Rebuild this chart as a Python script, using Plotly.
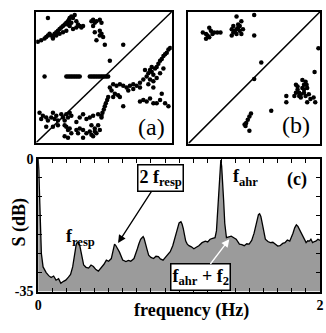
import plotly.graph_objects as go

# ---------------- data ----------------
# Panel (a) return map (arbitrary units)
a_x = [15,25,35,40,45,50,55,60,65,70,75,80,85,90,95,100,105,108,110,115,120,125,130,135,140,145,150,130,120,110,100,90,80,70,60,45,105,115,
       175,180,185,190,200,205,180,185,200,205,210,190,200,215,270,
       230,
       35,100,105,110,115,120,125,130,135,140,170,175,180,185,190,195,200,205,210,215,220,225,
       240,250,260,270,280,290,300,310,320,330,340,345,350,355,360,365,370,375,380,385,390,395,400,405,410,350,360,370,380,390,345,320,300,285,360,335,355,
       230,235,245,255,260,240,270,
       225,222,218,215,212,208,205,
       320,330,340,350,360,370,380,385,395,405,
       20,30,40,25,45,55,60,65,70,75,85,90,95,100,105,110,115,40,60,75,95,100,105,110,115,130,140,150,160,170,175,185,190,200,195,175,160,170,180,195,205,150,140,130,135,150,95,105,185,180]
a_y = [320,325,330,335,340,345,340,335,345,350,355,360,365,370,375,380,385,390,395,400,395,405,385,375,370,365,370,365,360,370,355,350,345,340,330,395,375,380,
       385,390,380,385,390,380,370,350,355,345,335,325,340,310,310,
       260,
       210,210,210,210,210,210,210,210,210,210,210,210,210,210,210,210,210,210,210,210,210,210,
       185,180,185,180,175,180,185,180,190,200,210,220,230,225,215,235,240,250,260,265,275,280,285,295,300,200,195,205,220,235,185,175,170,165,175,230,240,
       175,165,155,150,145,145,115,
       145,135,125,115,105,95,85,
       130,135,130,140,125,125,135,155,125,115,
       95,85,80,75,70,80,95,75,85,70,90,80,70,90,80,95,85,50,50,55,55,50,40,45,30,40,45,40,30,35,25,35,30,40,55,55,75,80,85,90,80,90,80,65,30,15,20,15,45,20]

# Panel (b) return map (arbitrary units)
b_x = [55,65,70,75,80,85,90,100,110,75,65,145,150,155,160,165,170,175,160,150,165,175,160,215,215,145,170,180,
       237,215,415,403,
       345,350,355,360,365,370,375,365,370,375,380,360,355,345,350,315,315,340,380,390,400,405,385,370,378,
       205,200,195,190,185,188,200,268]
b_y = [350,345,340,335,355,345,350,350,350,365,330,360,350,355,360,365,355,345,345,370,375,385,400,405,340,340,370,360,
       255,203,300,225,
       185,170,160,155,175,185,195,200,160,150,175,145,150,160,180,150,130,150,130,140,145,130,155,170,185,
       95,85,75,65,60,55,40,103]

diag_a_x = [10, 415]
diag_a_y = [0, 415]
diag_b_x = [10, 420]
diag_b_y = [0, 415]

# Panel (c) power spectrum
freq = [0,0.005,0.012,0.023,0.035,0.057,0.075,0.092,0.11,0.127,0.145,0.161,0.18,0.196,0.215,0.23,0.245,0.254,0.263,0.27,
        0.278,0.286,0.295,0.307,0.315,0.323,0.34,0.358,0.375,0.392,0.41,0.427,0.44,0.45,0.467,0.484,0.5,0.519,0.53,0.542,
        0.55,0.56,0.577,0.6,0.623,0.64,0.657,0.68,0.692,0.704,0.715,0.727,0.737,0.745,0.752,0.761,0.772,0.784,0.8,0.819,
        0.836,0.853,0.867,0.886,0.903,0.92,0.937,0.955,0.972,0.99,1.0,1.013,1.021,1.029,1.038,1.047,1.058,1.07,1.087,1.105,
        1.122,1.14,1.163,1.186,1.203,1.22,1.238,1.255,1.265,1.273,1.28,1.285,1.29,1.296,1.302,1.308,1.316,1.324,1.336,1.353,
        1.37,1.388,1.405,1.428,1.445,1.462,1.48,1.497,1.515,1.532,1.545,1.555,1.563,1.571,1.58,1.59,1.6,1.612,1.63,1.647,
        1.665,1.682,1.7,1.716,1.735,1.751,1.768,1.785,1.797,1.808,1.82,1.832,1.843,1.855,1.867,1.878,1.89,1.901,1.913,1.924,
        1.935,1.947,1.96,1.97,1.985,2.0]
S_db = [0,-3,-12,-25,-28.5,-30,-30.8,-31.3,-30.9,-32,-31.6,-32.8,-32.3,-32,-31.2,-30.5,-28.5,-26.3,-24.2,-22.6,
        -22.0,-22.1,-22.8,-24.6,-26.5,-28.0,-28.6,-28.8,-28.0,-28.4,-29.2,-29.6,-29.0,-28.8,-27.8,-26.7,-27.0,-26.3,-24.8,-22.5,
        -22.8,-23.4,-24.6,-26.7,-27.1,-26.8,-27.0,-26.3,-25.2,-23.7,-22.4,-21.2,-20.8,-20.5,-21.0,-22.0,-23.8,-25.4,-26.0,-26.3,
        -25.7,-25.8,-26.4,-26.7,-26.0,-25.4,-24.5,-22.9,-20.6,-17.9,-16.9,-16.6,-17.2,-18.3,-20.0,-21.7,-22.5,-22.9,-23.2,-23.7,
        -23.3,-22.9,-22.1,-21.7,-21.9,-21.2,-21.0,-20.8,-19.0,-14.5,-9.0,-5.3,-2.0,-0.3,-2.0,-5.3,-11.0,-17.0,-20.8,-20.6,
        -20.4,-20.8,-21.2,-22.5,-22.6,-22.9,-22.4,-22.5,-21.5,-19.6,-17.2,-15.4,-14.7,-14.5,-15.2,-17.0,-19.2,-21.2,-21.8,-22.1,
        -22.0,-22.5,-23.0,-22.9,-22.3,-22.1,-21.4,-21.7,-20.8,-19.6,-18.2,-17.4,-17.8,-18.7,-19.5,-20.4,-21.5,-22.1,-21.6,-21.7,
        -21.2,-22.1,-21.8,-21.7,-21.2,-21.5]
base_f = [0, 2]
base_db = [-35, -35]

x_tickvals = [0, 2]
x_ticktext = ["0", "2"]
y_tickvals = [-35, 0]
y_ticktext = ["-35", "0"]

# ---------------- figure ----------------
SERIF = "Liberation Serif"
fig = go.Figure()

mk = dict(color="black", size=4.5)
fig.add_trace(go.Scatter(x=a_x, y=a_y, mode="markers", marker=mk, xaxis="x", yaxis="y", showlegend=False))
fig.add_trace(go.Scatter(x=diag_a_x, y=diag_a_y, mode="lines", line=dict(color="black", width=1.5),
                         xaxis="x", yaxis="y", showlegend=False))
fig.add_trace(go.Scatter(x=b_x, y=b_y, mode="markers", marker=mk, xaxis="x2", yaxis="y2", showlegend=False))
fig.add_trace(go.Scatter(x=diag_b_x, y=diag_b_y, mode="lines", line=dict(color="black", width=1.5),
                         xaxis="x2", yaxis="y2", showlegend=False))

fig.add_trace(go.Scatter(x=base_f, y=base_db, mode="lines", line=dict(width=0, color="rgba(0,0,0,0)"),
                         xaxis="x3", yaxis="y3", showlegend=False, hoverinfo="skip"))
fig.add_trace(go.Scatter(x=freq, y=S_db, mode="lines", line=dict(color="black", width=1.3),
                         fill="tonexty", fillcolor="#9b9b9b", xaxis="x3", yaxis="y3", showlegend=False))

frame = dict(showline=True, linecolor="black", linewidth=2, mirror=True, showgrid=False,
             zeroline=False, showticklabels=False, ticks="")

tickfont = dict(family=SERIF, size=14, color="black", weight="bold")

fig.update_layout(
    width=326, height=333,
    margin=dict(l=0, r=0, t=0, b=0),
    paper_bgcolor="white", plot_bgcolor="white",
    xaxis=dict(domain=[33/326, 172/326], range=[10, 415], anchor="y", **frame),
    yaxis=dict(domain=[1-142/333, 1-5/333], range=[0, 415], anchor="x", **frame),
    xaxis2=dict(domain=[189/326, 324/326], range=[10, 420], anchor="y2", **frame),
    yaxis2=dict(domain=[1-143/333, 1-5/333], range=[0, 415], anchor="x2", **frame),
    xaxis3=dict(domain=[35/326, 324/326], range=[0, 2], anchor="y3",
                showline=True, linecolor="black", linewidth=1.8, mirror="ticks", showgrid=False, zeroline=False,
                tickvals=x_tickvals, ticktext=x_ticktext, ticks="inside", ticklen=4, tickwidth=1.2, tickcolor="black",
                ticklabeloverflow="allow",
                minor=dict(dtick=0.1, ticks="inside", ticklen=4, tickwidth=1.2, tickcolor="black", showgrid=False),
                tickfont=tickfont),
    yaxis3=dict(domain=[1-298/333, 1-159/333], range=[-35, 0], anchor="x3",
                showline=True, linecolor="black", linewidth=1.8, mirror="ticks", showgrid=False, zeroline=False,
                tickvals=y_tickvals, ticktext=y_ticktext, ticks="inside", ticklen=4, tickwidth=1.2, tickcolor="black",
                minor=dict(dtick=5, ticks="inside", ticklen=4, tickwidth=1.2, tickcolor="black", showgrid=False),
                tickfont=tickfont),
)

lab = dict(family=SERIF, size=18, color="black", weight="bold")
annots = [
    dict(x=354, y=50, xref="x", yref="y", text="(a)", showarrow=False,
         font=dict(family=SERIF, size=24, color="black")),
    dict(x=345, y=59, xref="x2", yref="y2", text="(b)", showarrow=False,
         font=dict(family=SERIF, size=24, color="black")),
    dict(x=1.834, y=-5.5, xref="x3", yref="y3", text="(c)", showarrow=False, font=lab),
    dict(x=1.474, y=-5.0, xref="x3", yref="y3", text="f<sub>ahr</sub>", showarrow=False, font=lab),
    dict(x=0.298, y=-20.8, xref="x3", yref="y3", text="f<sub>resp</sub>", showarrow=False, font=lab),
    dict(x=0.567, y=-22.2, xref="x3", yref="y3", text="2 f<sub>resp</sub>", showarrow=True,
         ax=42, ay=-65, arrowhead=2, arrowsize=1.2, arrowwidth=1.3, arrowcolor="black",
         bordercolor="black", borderwidth=1.5, borderpad=1, bgcolor="white", font=lab),
    dict(x=1.356, y=-21.2, xref="x3", yref="y3", text="f<sub>ahr</sub> + f<sub>2</sub>", showarrow=True,
         ax=-29, ay=38, arrowhead=2, arrowsize=1.2, arrowwidth=1.3, arrowcolor="white",
         bordercolor="black", borderwidth=1.5, borderpad=1, bgcolor="white", font=lab),
    dict(x=16/326, y=1-225/333, xref="paper", yref="paper", xanchor="center", yanchor="middle",
         text="S (dB)", textangle=-90, showarrow=False,
         font=dict(family=SERIF, size=18, color="black", weight="bold")),
    dict(x=192/326, y=1-318/333, xref="paper", yref="paper", xanchor="center", yanchor="middle",
         text="frequency (Hz)", showarrow=False,
         font=dict(family=SERIF, size=18, color="black", weight="bold")),
]
fig.update_layout(annotations=annots)

fig.write_html("out.html", config={"displayModeBar": False},
               post_script="document.body.style.margin='0';document.body.style.padding='0';")
